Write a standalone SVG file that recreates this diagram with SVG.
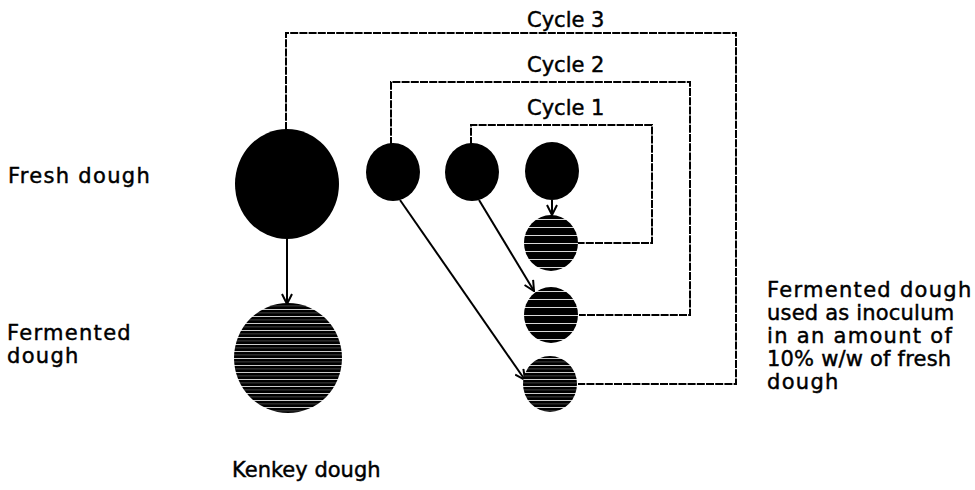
<svg xmlns="http://www.w3.org/2000/svg" width="975" height="490" viewBox="0 0 975 490">
  <style>
    .lbl { font-family: "DejaVu Sans", "Liberation Sans", sans-serif; font-size: 21px; fill: #000; stroke: #000; stroke-width: 0.45; letter-spacing: 1.3px; }
    .tight { letter-spacing: 0.2px; }
    .flat { letter-spacing: 0; }
    .fresh { fill: #000; }
    .ferm { fill: url(#hatch); }
    .dense { fill: url(#hatchDense); }
    .cycle { fill: none; stroke: #000; stroke-width: 2; stroke-dasharray: 8 1.2; }
    .flow { fill: none; stroke: #000; stroke-width: 2; marker-end: url(#arrow); }
  </style>
  <defs>
    <!-- black fill broken by thin horizontal light streaks -->
    <pattern id="hatch" patternUnits="userSpaceOnUse" width="10" height="8">
      <rect width="10" height="8" fill="#000"/>
      <rect x="0" y="3" width="10" height="1" fill="#fff" opacity="0.85"/>
    </pattern>
    <pattern id="hatchDense" patternUnits="userSpaceOnUse" width="10" height="7">
      <rect width="10" height="7" fill="#000"/>
      <rect x="0" y="1" width="10" height="1" fill="#fff" opacity="0.8"/>
      <rect x="0" y="4.5" width="10" height="0.8" fill="#888" opacity="0.6"/>
    </pattern>
    <marker id="arrow" viewBox="0 0 12 12" refX="11" refY="6" markerWidth="12" markerHeight="12" markerUnits="userSpaceOnUse" orient="auto">
      <path d="M1 1 L11 6 L1 11" fill="none" stroke="#000" stroke-width="2"/>
    </marker>
  </defs>

  <!-- side labels -->
  <text class="lbl" x="8" y="183">Fresh dough</text>
  <text class="lbl" x="7" y="340" letter-spacing="0.8">Fermented</text>
  <text class="lbl" x="7" y="363" letter-spacing="0.8">dough</text>
  <text class="lbl flat" x="232" y="477" font-size="20">Kenkey dough</text>
  <g id="note">
    <text class="lbl" x="767" y="297" letter-spacing="0.6">Fermented dough</text>
    <text class="lbl tight" x="767" y="320">used as inoculum</text>
    <text class="lbl" x="767" y="343" letter-spacing="0.9">in an amount of</text>
    <text class="lbl tight" x="767" y="366">10% w/w of fresh</text>
    <text class="lbl" x="767" y="389">dough</text>
  </g>

  <!-- recycle loops -->
  <g id="connectors">
    <path class="cycle" d="M286 130 V33 H736 V384 H578"/>
    <path class="cycle" d="M391 145 V82 H690 V315 H579"/>
    <path class="cycle" d="M471 145 V125 H652 V243 H578"/>
    <text class="lbl flat" x="527" y="27">Cycle 3</text>
    <text class="lbl flat" x="527" y="72">Cycle 2</text>
    <text class="lbl flat" x="527" y="115">Cycle 1</text>
    <line class="flow" x1="287" y1="239" x2="287" y2="304"/>
    <line class="flow" x1="552" y1="200" x2="552" y2="215"/>
    <line class="flow" x1="479" y1="200" x2="534" y2="291"/>
    <line class="flow" x1="400" y1="200" x2="525" y2="380"/>
  </g>

  <!-- fresh dough portions -->
  <g id="fresh-main"><ellipse class="fresh" cx="287" cy="184" rx="52" ry="55"/></g>
  <g id="fresh-1"><ellipse class="fresh" cx="393" cy="172" rx="27" ry="29"/></g>
  <g id="fresh-2"><ellipse class="fresh" cx="472" cy="172" rx="27" ry="29"/></g>
  <g id="fresh-3"><ellipse class="fresh" cx="552" cy="171" rx="27" ry="29"/></g>

  <!-- fermented dough portions -->
  <g id="ferm-1"><ellipse class="ferm" cx="551" cy="243" rx="27" ry="28"/></g>
  <g id="ferm-2"><ellipse class="ferm" cx="551" cy="315" rx="27" ry="28"/></g>
  <g id="ferm-3"><ellipse class="dense" cx="550" cy="384" rx="27" ry="28"/></g>
  <g id="kenkey"><ellipse class="dense" cx="288" cy="358" rx="54" ry="55"/></g>
</svg>
